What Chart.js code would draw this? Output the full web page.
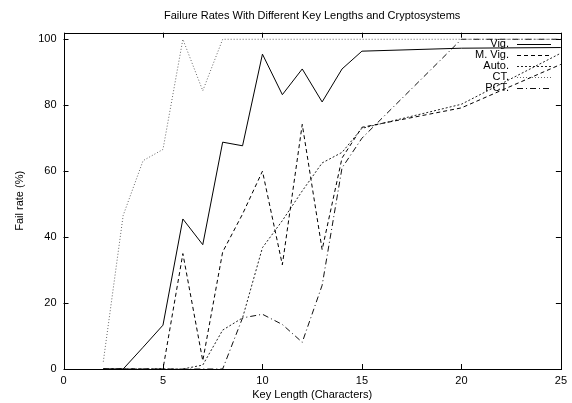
<!DOCTYPE html>
<html><head><meta charset="utf-8">
<script src="https://cdn.jsdelivr.net/npm/chart.js@4.4.1/dist/chart.umd.min.js"></script>
<style>html,body{margin:0;padding:0;background:#fff;}</style>
</head><body>
<canvas id="c" width="572" height="403"></canvas>
<script>
const keyLengths = [2,3,4,5,6,7,8,9,10,11,12,13,14,15,20,25];
const vig     = [0,0,6.6,13.3,45.5,37.7,68.8,67.7,95.5,83.2,91,81,91,96.4,97.3,97.5];
const mVig    = [0,0,0,0,35,2.5,35.5,47,60,31.6,74.2,36.2,64,73.3,79.2,92.4];
const autoKey = [0,0,0,0,0,1.2,11.8,15.5,36.8,45,54,62.5,65.7,73,80.3,95.8];
const ct      = [2.2,46.6,63.2,66.6,100,84.4,100,100,100,100,100,100,100,100,100,100];
const pct     = [0,0,0,0,0,0,0,15.5,16.6,13.5,8.1,25.4,61,70,100,100];
const seriesNames = ['Vig.','M. Vig.','Auto.','CT.','PCT.'];
const seriesValues = [vig, mVig, autoKey, ct, pct];
const xTicks = [0,5,10,15,20,25];
const yTicks = [0,20,40,60,80,100];

const styles = [
  {color:'#000', dash:[]},
  {color:'#000', dash:[4,3]},
  {color:'#222', dash:[2,2]},
  {color:'#666', dash:[1,2]},
  {color:'#111', dash:[6,3,1,3]}
];

const datasets = seriesNames.map((name,i)=>({
  label:name,
  data: keyLengths.map((k,j)=>({x:k, y:seriesValues[i][j]})),
  borderColor: styles[i].color,
  borderDash: styles[i].dash,
  borderWidth: 1,
  pointRadius: 0,
  fill: false,
  tension: 0
}));

const frame = {
  id:'frame',
  afterDatasetsDraw(chart){
    const {ctx, chartArea:a, scales:{x,y}} = chart;
    ctx.save();
    ctx.strokeStyle='#000'; ctx.lineWidth=1; ctx.setLineDash([]);
    ctx.strokeRect(Math.round(a.left)+0.5, Math.round(a.top)+0.5, Math.round(a.right-a.left), Math.round(a.bottom-a.top));
    const L=5;
    ctx.beginPath();
    x.ticks.forEach(t=>{
      const px=Math.round(x.getPixelForValue(t.value))+0.5;
      ctx.moveTo(px,a.bottom); ctx.lineTo(px,a.bottom-L);
      ctx.moveTo(px,a.top); ctx.lineTo(px,a.top+L);
    });
    y.ticks.forEach(t=>{
      const py=Math.round(y.getPixelForValue(t.value))+0.5;
      ctx.moveTo(a.left,py); ctx.lineTo(a.left+L,py);
      ctx.moveTo(a.right,py); ctx.lineTo(a.right-L,py);
    });
    ctx.stroke();
    // legend
    ctx.font='11px "Liberation Sans", Arial, Helvetica, sans-serif';
    ctx.fillStyle='#000';
    ctx.textAlign='right'; ctx.textBaseline='middle';
    chart.data.datasets.forEach((ds,i)=>{
      const yy = 43.5 + i*11;
      ctx.fillText(ds.label, 509, yy);
      ctx.beginPath();
      ctx.strokeStyle=ds.borderColor;
      ctx.setLineDash(ds.borderDash||[]);
      ctx.moveTo(517, Math.round(yy)+0.5); ctx.lineTo(551, Math.round(yy)+0.5);
      ctx.stroke();
    });
    ctx.restore();
  }
};

Chart.defaults.font.family = '"Liberation Sans", Arial, Helvetica, sans-serif';
Chart.defaults.font.size = 11;
Chart.defaults.color = '#000';

new Chart(document.getElementById('c'), {
  type:'line',
  data:{datasets},
  options:{
    responsive:false,
    animation:false,
    layout:{padding:{left:0,right:8.5,top:0,bottom:0}},
    plugins:{
      legend:{display:false},
      tooltip:{enabled:false},
      title:{display:true, fullSize:false, text:'Failure Rates With Different Key Lengths and Cryptosystems',
        color:'#000', font:{size:11, weight:'normal'}, padding:{top:9.5,bottom:10}}
    },
    scales:{
      x:{type:'linear', min:0, max:25,
        afterBuildTicks(s){ s.ticks = xTicks.map(v=>({value:v})); },
        afterFit(s){ s.height = 34; },
        grid:{display:false, drawTicks:false}, border:{display:false},
        ticks:{padding:5, color:'#000', maxRotation:0, autoSkip:false},
        title:{display:true, text:'Key Length (Characters)', color:'#000', padding:{top:0,bottom:1}}
      },
      y:{type:'linear', min:0, max:102,
        afterBuildTicks(s){ s.ticks = yTicks.map(v=>({value:v})); },
        afterFit(s){ s.width = 63.5; },
        grid:{display:false, drawTicks:false}, border:{display:false},
        ticks:{padding:7, color:'#000'},
        title:{display:true, text:'Fail rate (%)', color:'#000', padding:{top:13,bottom:0}}
      }
    }
  },
  plugins:[frame]
});
</script>
</body></html>
